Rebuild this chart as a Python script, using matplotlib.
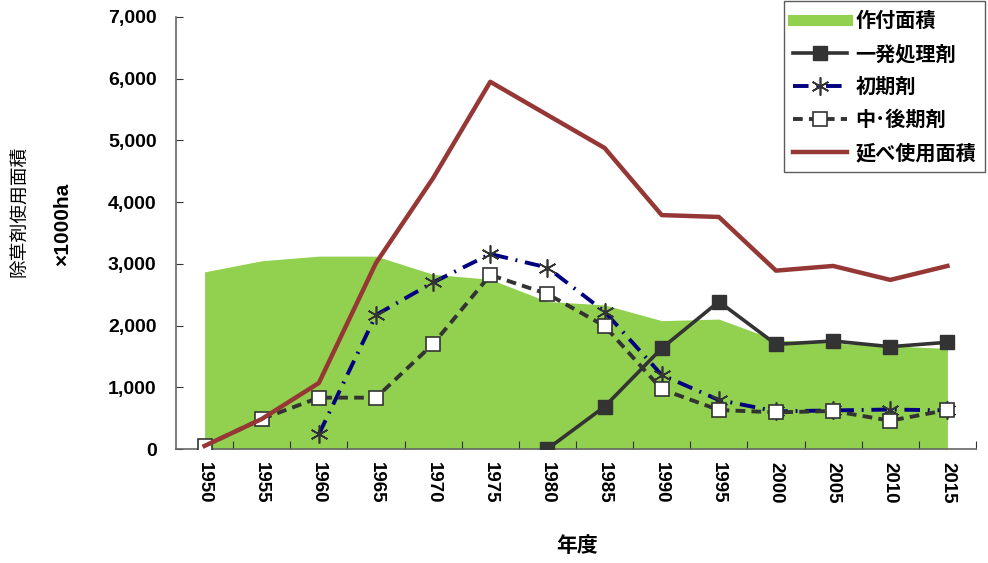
import matplotlib.pyplot as plt
from matplotlib.lines import Line2D
from matplotlib.ticker import FuncFormatter, FixedLocator

years = ["1950", "1955", "1960", "1965", "1970", "1975", "1980",
         "1985", "1990", "1995", "2000", "2005", "2010", "2015"]

# 作付面積 (x1000ha)
planted = [2870, 3050, 3125, 3125, 2830, 2750, 2390,
           2335, 2080, 2105, 1765, 1715, 1670, 1630]
# 一発処理剤 (1980年から)
one_shot = [None, None, None, None, None, None, 0,
            686, 1632, 2388, 1696, 1750, 1658, 1729]
# 初期剤 (1960年から)
early = [None, None, 238, 2172, 2700, 3160, 2940,
         2226, 1200, 794, 610, 625, 640, 625]
# 中・後期剤
mid_late = [50, 486, 832, 832, 1702, 2820, 2512,
            1994, 968, 632, 594, 616, 459, 632]
# 延べ使用面積
total = [50, 486, 1070, 3015, 4390, 5950, 5413,
         4878, 3790, 3760, 2890, 2966, 2740, 2966]

jp = ["Noto Sans CJK JP"]
num = ["Liberation Sans", "Noto Sans CJK JP"]

fig = plt.figure(figsize=(9.88, 5.63), dpi=100)
ax = fig.add_axes([176 / 988, 1 - 449 / 563, 800 / 988, 432 / 563])

x = list(range(len(years)))

def pts(vals):
    xs = [i for i, v in zip(x, vals) if v is not None]
    ys = [v for v in vals if v is not None]
    return xs, ys

ax.fill_between(x, 0, planted, color="#92D050", linewidth=0, label="作付面積", zorder=1)

xs, ys = pts(one_shot)
ax.plot(xs, ys, color="#333333", lw=2.6, marker="s", ms=10,
        mfc="#333333", mec="#333333", label="一発処理剤", zorder=4)

xs, ys = pts(early)
ax.plot(xs, ys, color="#000080", lw=2.8, dashes=(4, 2, 0.5, 2),
        marker=(6, 2, 0), ms=13, mec="#333333", mew=1.2,
        label="初期剤", zorder=3)

xs, ys = pts(mid_late)
ax.plot(xs, ys, color="#333333", lw=2.8, dashes=(2.5, 1.6),
        marker="s", ms=10, mfc="white", mec="#333333", mew=1.2,
        label="中･後期剤", zorder=5)

ax.plot(x, total, color="#953735", lw=3.2, label="延べ使用面積", zorder=6)

ax.set_xlim(-0.5, len(years) - 0.5)
ax.set_ylim(0, 7000)

for side in ["top", "right"]:
    ax.spines[side].set_visible(False)
for side in ["left", "bottom"]:
    ax.spines[side].set_color("#666666")
    ax.spines[side].set_linewidth(1.2)

ax.set_yticks(range(0, 7001, 1000))
ax.yaxis.set_major_formatter(FuncFormatter(lambda v, p: f"{int(v):,}"))
ax.tick_params(axis="y", direction="in", length=5, color="#333333", pad=14)

# 目盛りは区間の境目、ラベルは各年の中央
ax.xaxis.set_major_locator(FixedLocator([i + 0.5 for i in x]))
ax.xaxis.set_minor_locator(FixedLocator(x))
ax.tick_params(axis="x", which="major", direction="in", length=6,
               color="#333333", labelbottom=False)
ax.tick_params(axis="x", which="minor", length=0, pad=9)
ax.set_xticklabels(years, minor=True)

for lab in ax.get_yticklabels():
    lab.set_family(num)
    lab.set_fontweight("bold")
    lab.set_fontsize(14)
for lab in ax.get_xticklabels(minor=True):
    lab.set_family(num)
    lab.set_fontweight("bold")
    lab.set_fontsize(13.5)
    lab.set_rotation(270)
    lab.set_va("top")
    lab.set_ha("center")

fig.text(20 / 988, 1 - 211 / 563, "除草剤使用面積", rotation=90,
         ha="center", va="center", family=jp, fontsize=13.5)
fig.text(63 / 988, 1 - 224 / 563, "×1000ha", rotation=90,
         ha="center", va="center", family=num, fontweight="bold", fontsize=15)
fig.text(577 / 988, 1 - 546 / 563, "年度", ha="center", va="center",
         family=jp, fontweight="bold", fontsize=15)

handles, labels = ax.get_legend_handles_labels()
handles[0] = Line2D([], [], color="#92D050", lw=8)
leg = fig.legend(handles, labels, loc="upper right",
                 bbox_to_anchor=(985 / 988, 1 - 1 / 563),
                 prop={"family": jp, "weight": "bold", "size": 14.5},
                 frameon=True, fancybox=False, edgecolor="#333333",
                 handlelength=2.7, labelspacing=0.6, borderpad=0.45,
                 handletextpad=0.4, borderaxespad=0)
leg.get_frame().set_linewidth(1.0)

fig.savefig("out.png", dpi=100)
